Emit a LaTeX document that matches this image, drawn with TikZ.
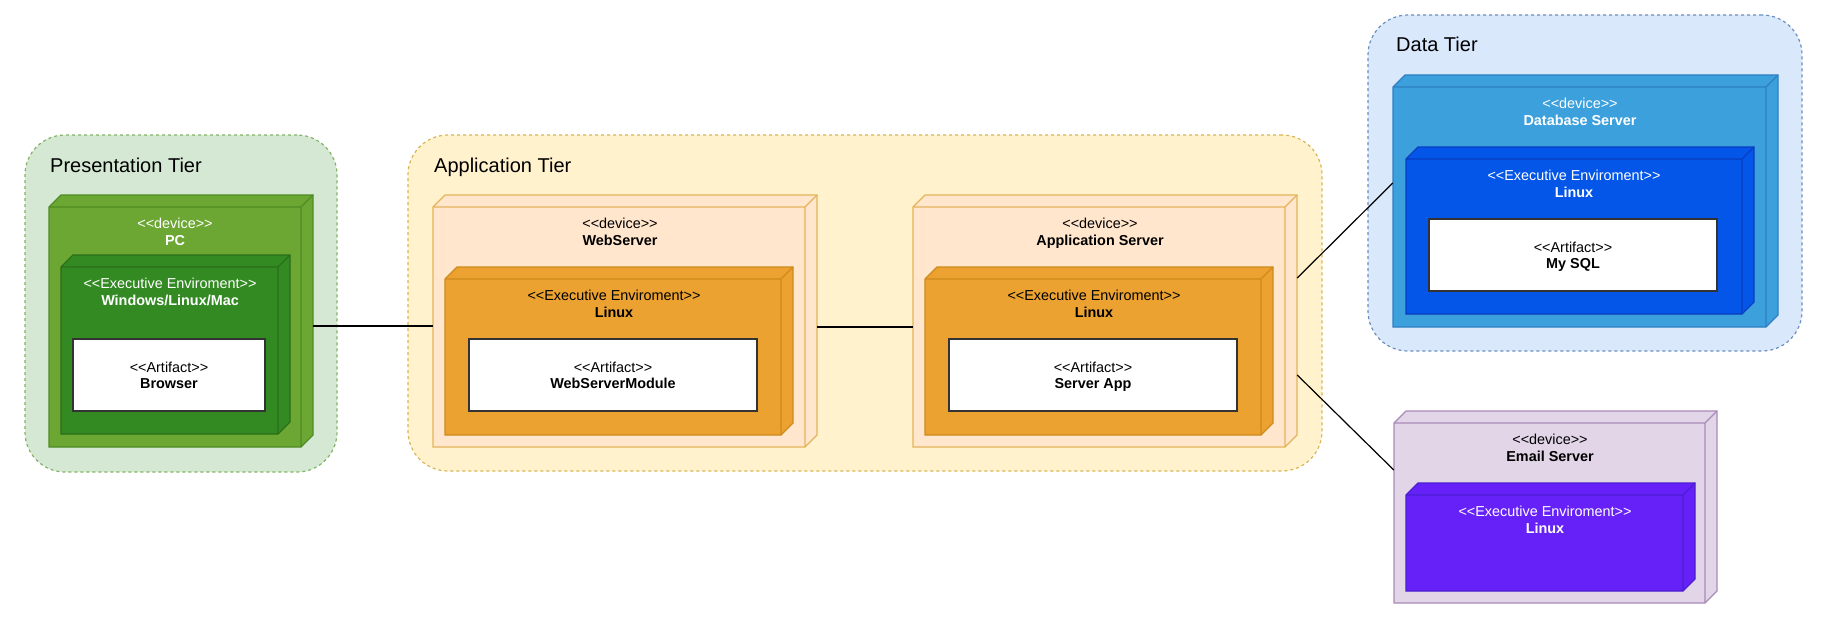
\documentclass[tikz,border=0pt]{standalone}
\usepackage{fontspec}
\setmainfont{Liberation Sans}
\usetikzlibrary{fit}
\definecolor{presfill}{HTML}{D5E8D4}\definecolor{presline}{HTML}{82B366}
\definecolor{appfill}{HTML}{FFF2CC}\definecolor{appline}{HTML}{D6B656}
\definecolor{datafill}{HTML}{DAE8FC}\definecolor{dataline}{HTML}{6C8EBF}
\definecolor{pcfill}{HTML}{6CA733}\definecolor{pcline}{HTML}{4E8C24}
\definecolor{pcexfill}{HTML}{338A22}\definecolor{pcexline}{HTML}{2A6E1A}
\definecolor{wsfill}{HTML}{FFE6CC}\definecolor{wsline}{HTML}{E4B45B}
\definecolor{exfill}{HTML}{EBA231}\definecolor{exline}{HTML}{CF8A1A}
\definecolor{dbfill}{HTML}{3CA0DC}\definecolor{dbline}{HTML}{2F7FC1}
\definecolor{dbexfill}{HTML}{0456E9}\definecolor{dbexline}{HTML}{0A3DC0}
\definecolor{emfill}{HTML}{E1D5E7}\definecolor{emline}{HTML}{A88BB8}
\definecolor{emexfill}{HTML}{6621F9}\definecolor{emexline}{HTML}{4B1FD0}
\definecolor{artline}{HTML}{333333}
\newcommand\st[1]{<\kern0pt<#1>\kern0pt>}
\newcommand\cubebox[7]{%
  \filldraw[fill=#6, draw=#7, cubeline] (#2,#3) -- ++(12,-12) -- (#4+12,#3-12) -- (#4+12,#5-12) -- (#4,#5) -- (#2,#5) -- cycle;
  \draw[draw=#7, cubeline] (#2,#3) -- (#4,#3) -- (#4,#5) (#4,#3) -- ++(12,-12);
  \coordinate (#1-a) at (#2,#3-12);
  \coordinate (#1-b) at (#4+12,#5);
  \node[fit=(#1-a)(#1-b), inner sep=0pt] (#1) {};
}
\newcommand\lbltext[5]{\node[lbl, text=#5] (#1) at (#2,#3) {#4};}
\begin{document}
\begin{tikzpicture}[x=1pt,y=-1pt,
  cubeline/.style={line width=1.2pt, line join=miter},
  tier/.style={rectangle, rounded corners=40pt, dash pattern=on 3pt off 3pt, line width=1.2pt, inner sep=0pt},
  art/.style={draw=artline, fill=white, line width=1.2pt},
  lbl/.style={anchor=base, inner sep=0pt, font=\fontsize{14.4}{17}\selectfont},
  title/.style={anchor=base west, inner sep=0pt, font=\fontsize{20}{24}\selectfont},
  conn/.style={draw=black, line width=1.2pt}]
\fill[white] (0,0) rectangle (1828,626);
\useasboundingbox (0,0) rectangle (1828,626);

% tiers
\node[tier, fill=presfill, draw=presline, minimum width=312pt, minimum height=337pt] (pres) at (181,303.5) {};
\node[tier, fill=appfill, draw=appline, minimum width=914pt, minimum height=336pt] (apptier) at (865,303) {};
\node[tier, fill=datafill, draw=dataline, minimum width=434pt, minimum height=336pt] (datatier) at (1585,183) {};
\node[title] (prest) at (50,172) {Presentation Tier};
\node[title] (appt) at (434,172) {Application Tier};
\node[title] (datat) at (1396,52) {Data Tier};

% PC
\cubebox{pc}{49}{207}{301}{447}{pcfill}{pcline}
\lbltext{pc1}{175}{228}{\st{device}}{white}
\lbltext{pc2}{175}{245}{\textbf{PC}}{white}
\cubebox{pcex}{61}{267}{278}{434}{pcexfill}{pcexline}
\lbltext{pcex1}{170}{288}{\st{Executive Enviroment}}{white}
\lbltext{pcex2}{170}{305}{\textbf{Windows/Linux/Mac}}{white}
\node[art, minimum width=192pt, minimum height=72pt, inner sep=0pt] (browser) at (169,375) {};
\lbltext{br1}{169}{372}{\st{Artifact}}{black}
\lbltext{br2}{169}{388}{\textbf{Browser}}{black}

% WebServer
\cubebox{ws}{433}{207}{805}{447}{wsfill}{wsline}
\lbltext{ws1}{620}{228}{\st{device}}{black}
\lbltext{ws2}{620}{245}{\textbf{WebServer}}{black}
\cubebox{wsex}{445}{279}{781}{435}{exfill}{exline}
\lbltext{wsex1}{614}{300}{\st{Executive Enviroment}}{black}
\lbltext{wsex2}{614}{317}{\textbf{Linux}}{black}
\node[art, minimum width=288pt, minimum height=72pt, inner sep=0pt] (wsm) at (613,375) {};
\lbltext{wsm1}{613}{372}{\st{Artifact}}{black}
\lbltext{wsm2}{613}{388}{\textbf{WebServerModule}}{black}

% Application Server
\cubebox{as}{913}{207}{1285}{447}{wsfill}{wsline}
\lbltext{as1}{1100}{228}{\st{device}}{black}
\lbltext{as2}{1100}{245}{\textbf{Application Server}}{black}
\cubebox{asex}{925}{279}{1261}{435}{exfill}{exline}
\lbltext{asex1}{1094}{300}{\st{Executive Enviroment}}{black}
\lbltext{asex2}{1094}{317}{\textbf{Linux}}{black}
\node[art, minimum width=288pt, minimum height=72pt, inner sep=0pt] (sapp) at (1093,375) {};
\lbltext{sapp1}{1093}{372}{\st{Artifact}}{black}
\lbltext{sapp2}{1093}{388}{\textbf{Server App}}{black}

% Database Server
\cubebox{db}{1393}{87}{1766}{327}{dbfill}{dbline}
\lbltext{db1}{1580}{108}{\st{device}}{white}
\lbltext{db2}{1580}{125}{\textbf{Database Server}}{white}
\cubebox{dbex}{1406}{159}{1742}{314}{dbexfill}{dbexline}
\lbltext{dbex1}{1574}{180}{\st{Executive Enviroment}}{white}
\lbltext{dbex2}{1574}{197}{\textbf{Linux}}{white}
\node[art, minimum width=288pt, minimum height=72pt, inner sep=0pt] (mysql) at (1573,255) {};
\lbltext{my1}{1573}{252}{\st{Artifact}}{black}
\lbltext{my2}{1573}{268}{\textbf{My SQL}}{black}

% Email Server
\cubebox{em}{1394}{423}{1705}{603}{emfill}{emline}
\lbltext{em1}{1550}{444}{\st{device}}{black}
\lbltext{em2}{1550}{461}{\textbf{Email Server}}{black}
\cubebox{emex}{1406}{495}{1683}{591}{emexfill}{emexline}
\lbltext{emex1}{1545}{516}{\st{Executive Enviroment}}{white}
\lbltext{emex2}{1545}{533}{\textbf{Linux}}{white}

% connectors
\draw[conn] ([yshift=-5pt]pc.east) -- ([yshift=-5pt]ws.west);
\draw[conn] ([yshift=-6pt]ws.east) -- ([yshift=-6pt]as.west);
\draw[conn] ([yshift=43pt]as.east) -- ([yshift=18pt]db.west);
\draw[conn] ([yshift=-54pt]as.east) -- ([yshift=37pt]em.west);
\end{tikzpicture}
\end{document}
